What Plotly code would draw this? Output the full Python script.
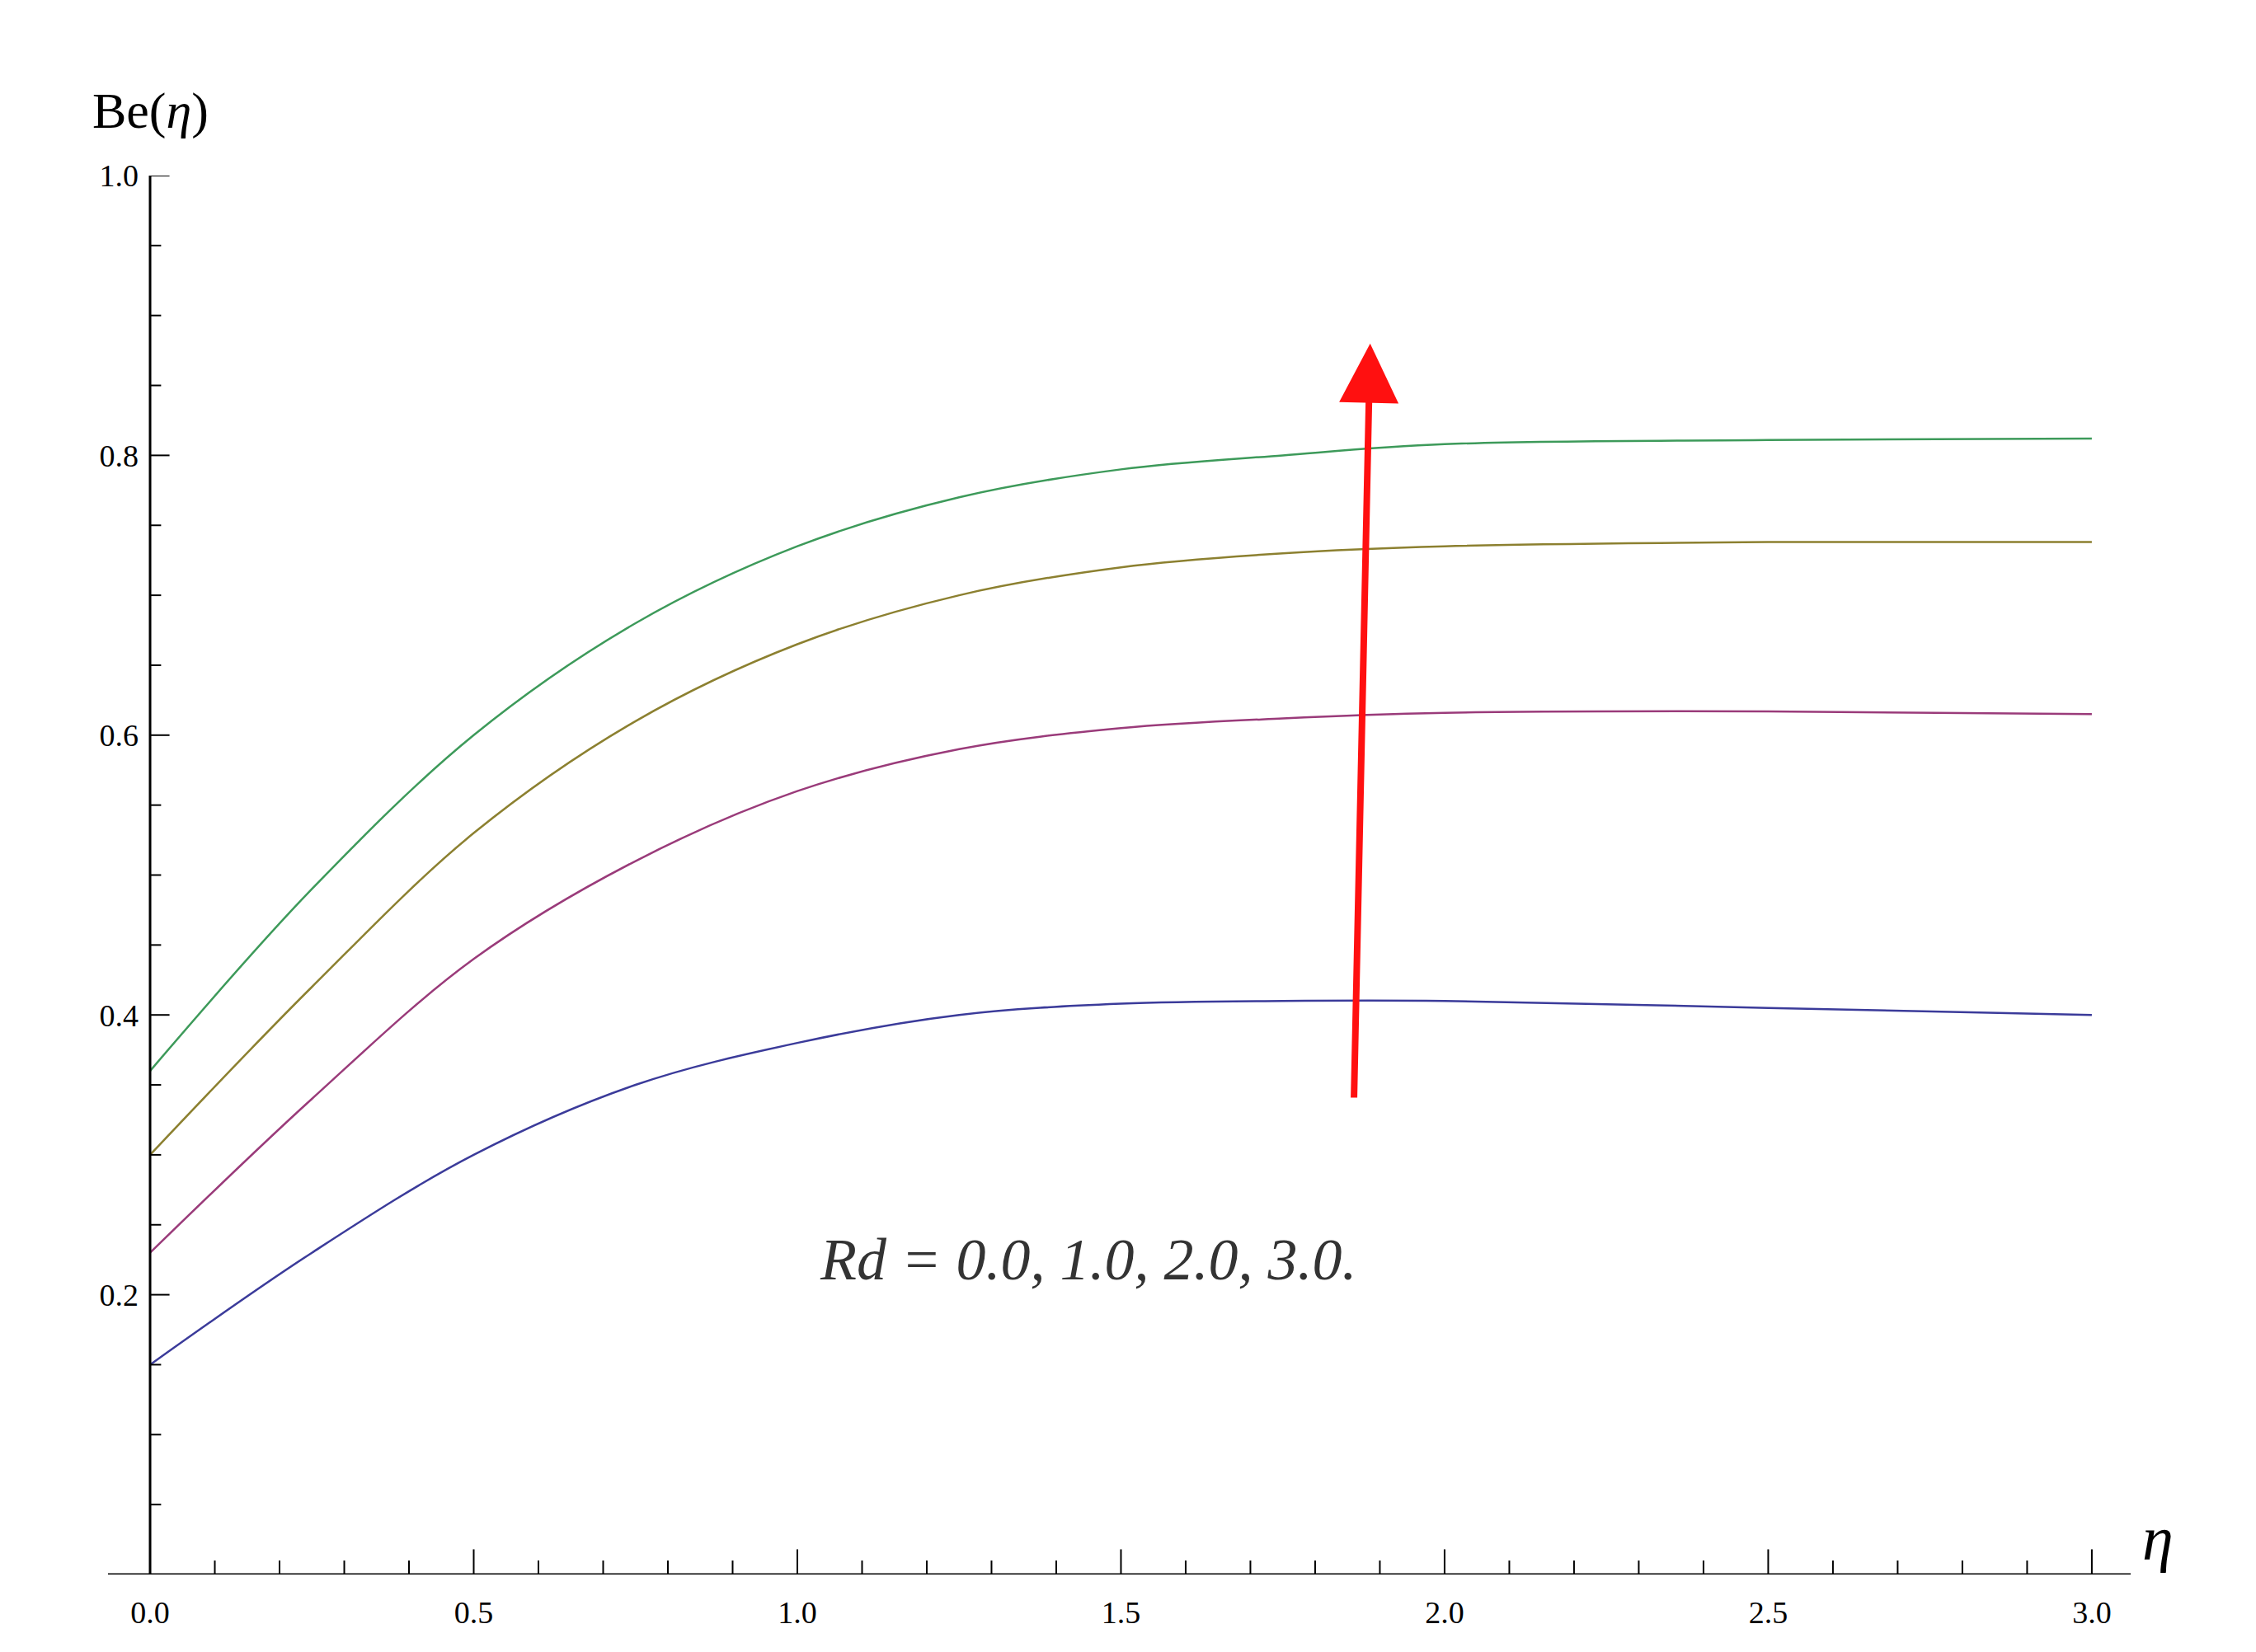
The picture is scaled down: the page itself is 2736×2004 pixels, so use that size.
import plotly.graph_objects as go

eta = [0.0, 0.25, 0.5, 0.75, 1.0, 1.25, 1.5, 1.75, 2.0, 2.5, 3.0]
be_rd0 = [0.15, 0.23, 0.30, 0.35, 0.38, 0.40, 0.408, 0.41, 0.41, 0.405, 0.40]
be_rd1 = [0.23, 0.34, 0.44, 0.51, 0.56, 0.59, 0.605, 0.612, 0.616, 0.617, 0.615]
be_rd2 = [0.30, 0.42, 0.53, 0.61, 0.665, 0.70, 0.72, 0.73, 0.735, 0.738, 0.738]
be_rd3 = [0.36, 0.49, 0.60, 0.68, 0.735, 0.77, 0.79, 0.80, 0.808, 0.811, 0.812]
colors = ["#3b3b9a", "#9a3b7a", "#8c8030", "#3d9a5a"]

fig = go.Figure()
for ys, c in zip([be_rd0, be_rd1, be_rd2, be_rd3], colors):
    fig.add_trace(go.Scatter(x=eta, y=ys, mode="lines", line=dict(color=c, width=2.5, shape="spline"), showlegend=False))

x0, x1 = -0.065, 3.06
fig.update_layout(
    width=2736, height=2004, plot_bgcolor="white", paper_bgcolor="white",
    margin=dict(l=123, r=160, t=205, b=102),
    font=dict(family="Liberation Serif", color="black"),
    xaxis=dict(range=[x0, x1], showgrid=False, zeroline=False, showline=False,
               tickvals=[0, 0.5, 1, 1.5, 2, 2.5, 3], ticktext=["0.0", "0.5", "1.0", "1.5", "2.0", "2.5", "3.0"],
               ticks="", tickfont=dict(size=38), ticklabelstandoff=20),
    yaxis=dict(range=[0, 1.0], showgrid=False, zeroline=False, showline=False,
               tickvals=[0.2, 0.4, 0.6, 0.8, 1.0], ticktext=["0.2", "0.4", "0.6", "0.8", "1.0"],
               ticks="", tickfont=dict(size=38), anchor="free",
               position=(0 - x0) / (x1 - x0), ticklabelstandoff=14),
)
fig.add_shape(type="line", x0=x0, x1=x1, y0=0, y1=0, line=dict(color="black", width=3))
fig.add_shape(type="line", x0=0, x1=0, y0=0, y1=1.0, line=dict(color="black", width=3))
for i in range(31):
    v = i * 0.1
    L = 0.018 if i % 5 == 0 else 0.01
    fig.add_shape(type="line", x0=v, x1=v, y0=0, y1=L, line=dict(color="black", width=2))
for i in range(1, 21):
    v = i * 0.05
    L = 0.03 if i % 4 == 0 else 0.017
    fig.add_shape(type="line", x0=0, x1=L, y0=v, y1=v, line=dict(color="black", width=2))

fig.add_annotation(x=1.885, y=0.88, ax=1.86, ay=0.34, xref="x", yref="y", axref="x", ayref="y",
                   text="", showarrow=True, arrowhead=2, arrowsize=1.8, arrowwidth=8, arrowcolor="#ff1010")
fig.add_annotation(x=1.45, y=0.225, text="<i>Rd = 0.0, 1.0, 2.0, 3.0.</i>", showarrow=False,
                   font=dict(size=72, color="#333333"))
fig.add_annotation(x=(0 - x0) / (x1 - x0), y=1.025, xref="paper", yref="paper", text="Be(<i>η</i>)", showarrow=False,
                   xanchor="center", yanchor="bottom", font=dict(size=62))
fig.add_annotation(x=1.005, y=0.0, xref="paper", yref="paper", text="<i>η</i>", showarrow=False,
                   xanchor="left", yanchor="bottom", font=dict(size=76))
fig.write_html("out.html")
